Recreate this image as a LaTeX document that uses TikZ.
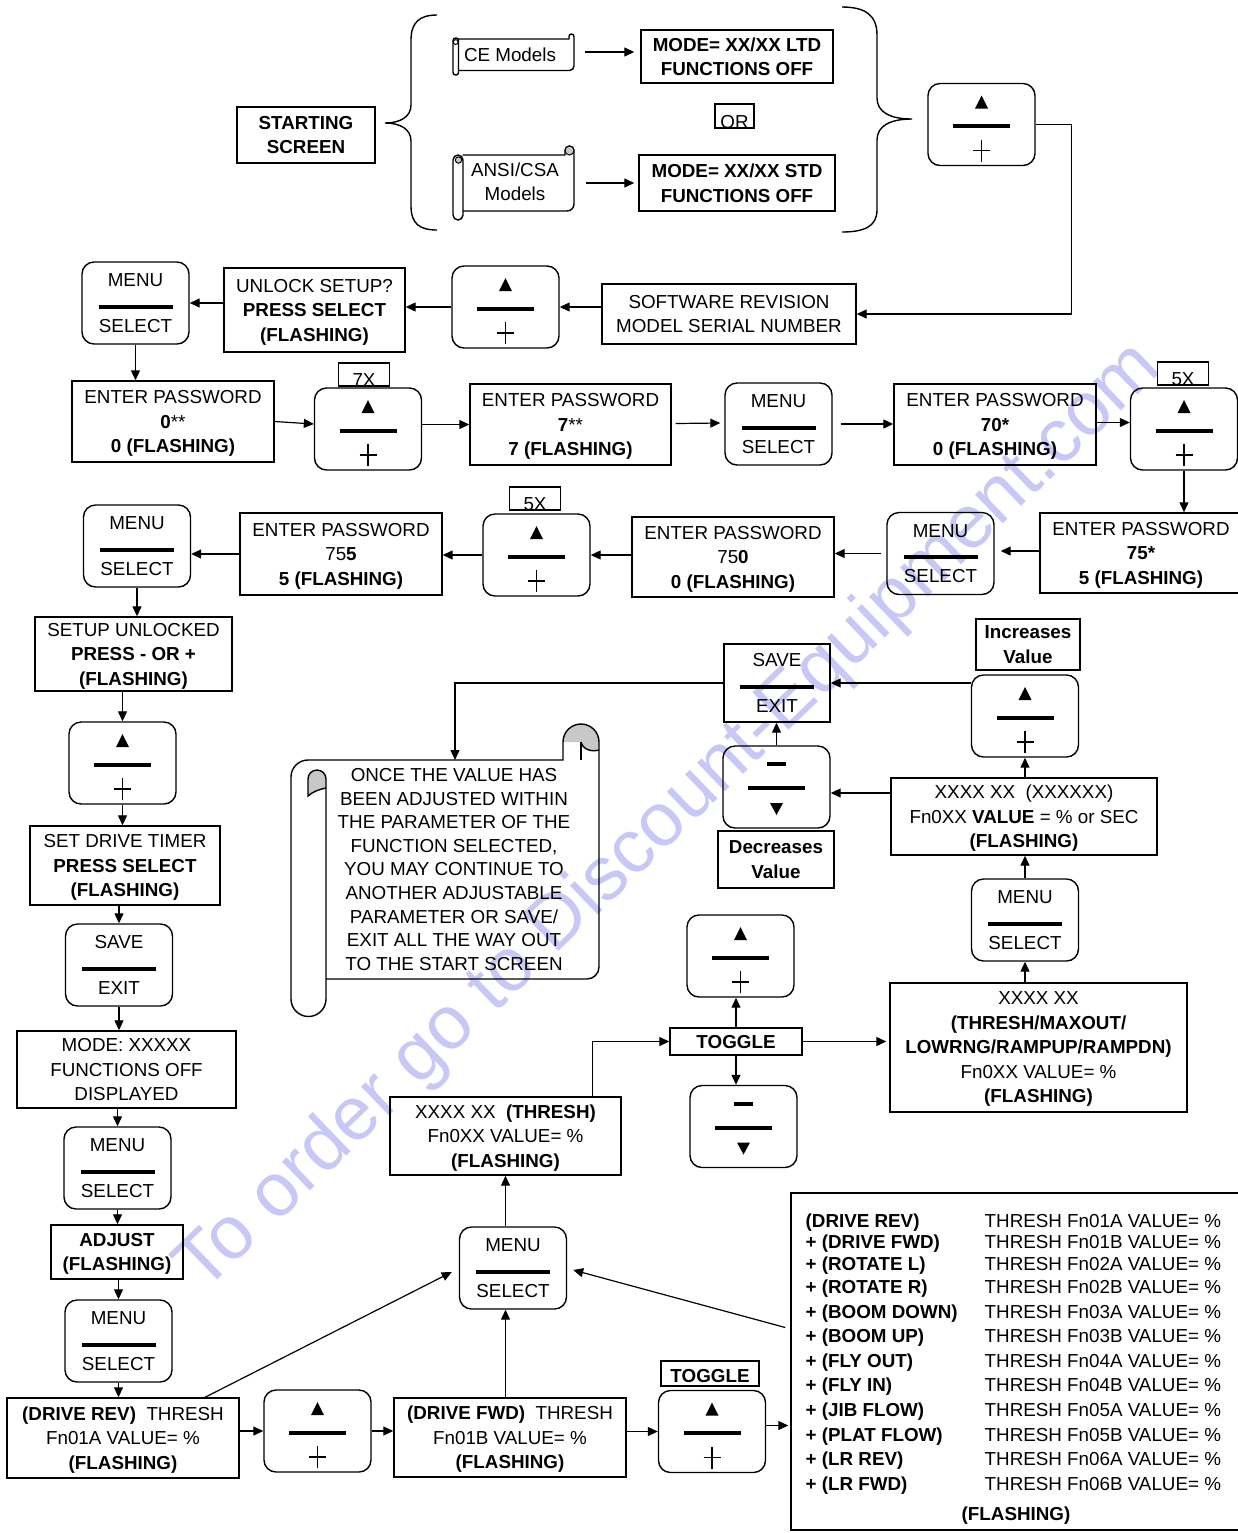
\documentclass[tikz,border=0pt]{standalone}
\usepackage{fontspec}
\setmainfont{Liberation Sans}
\usetikzlibrary{arrows.meta,calc}

\definecolor{wmblue}{RGB}{200,200,246}
\definecolor{curlgray}{RGB}{200,200,200}

\tikzset{
  box/.style={draw, align=center, inner sep=0pt, text depth=-1.5pt},
  bbox/.style={box, execute at begin node=\bfseries},
  wh/.style 2 args={minimum width=#1pt, minimum height=#2pt},
  key/.style={draw, rounded corners=6pt, minimum width=53.5pt, minimum height=41pt, inner sep=0pt},
  tag/.style={draw, inner xsep=0pt, inner ysep=0pt, minimum width=25.5pt, text height=11.5pt, text depth=0pt},
  bar/.style={line width=2pt},
  arr/.style={line width=0.6pt, ->},
  lbl/.style={anchor=base west, inner sep=0pt, execute at begin node=\bfseries},
  val/.style={anchor=base west, inner sep=0pt},
}

% key with up arrow / plus
\newcommand{\upkey}[2]{%
  \node[key] (#1) at (#2) {};
  \begin{scope}[shift={(#1.center)}]
    \fill (0,-29) -- (6.5,-16) -- (-6.5,-16) -- cycle;
    \draw[bar] (-28.5,1.5) -- (28.5,1.5);
    \draw[line width=0.6pt] (-8.5,26) -- (8.5,26) (0,15) -- (0,37);
  \end{scope}}

% key with minus / down arrow
\newcommand{\downkey}[2]{%
  \node[key] (#1) at (#2) {};
  \begin{scope}[shift={(#1.center)}]
    \draw[bar] (-9.5,-23) -- (9.5,-23);
    \draw[bar] (-28.5,1) -- (28.5,1);
    \fill (0,28) -- (6.5,16) -- (-6.5,16) -- cycle;
  \end{scope}}

% key with two words and a bar
\newcommand{\menukey}[5][key]{%
  \node[#1, align=center, text depth=-1.7pt] (#2) at (#3) {#4\\[10.5pt]#5};
  \draw[bar] ($(#2.center)+(-37,3.5)$) -- ($(#2.center)+(37,3.5)$);}

\begin{document}
\begin{tikzpicture}[
    x=0.5pt, y=-0.5pt,
    >={Triangle[length=5pt,width=4.5pt]},
    line width=0.7pt,
    font=\fontsize{9.4}{12.25}\selectfont
]

\path[fill=white] (0,0) rectangle (1238,1533);
\useasboundingbox (0,0) rectangle (1238,1533);

% watermark
\node[rotate=43.9, text=wmblue, font=\fontsize{37.8}{40}\selectfont] (wmark) at (670,818) {To order go to Discount-Equipment.com};

% ======================================
% starting screen
% ======================================
\node[bbox, wh={69}{28}] (start) at (306,135) {STARTING\\SCREEN};

\draw (437,15) .. controls (420,15) and (411,22) .. (411,40) -- (411,105)
   .. controls (411,117) and (400,123) .. (385,123)
   .. controls (400,123) and (411,129) .. (411,141) -- (411,206)
   .. controls (411,224) and (420,230) .. (437,230);
\draw (842,7) .. controls (865,7) and (877,15) .. (877,35) -- (877,98)
   .. controls (877,112) and (890,119) .. (912,119)
   .. controls (890,119) and (877,126) .. (877,140) -- (877,210)
   .. controls (877,226) and (865,232) .. (842,232);

% CE scroll
\draw (458,70.5) -- (569.5,70.5) arc[start angle=-90,end angle=0,radius=2.25pt]
   -- (574,36.5) arc[start angle=0,end angle=180,radius=1.25pt] -- (569,39) -- (458,39);
\draw[rounded corners=1.25pt] (453,38) rectangle (458.5,75);
\draw[line width=0.5pt] (455.7,42) circle[radius=1.2pt];
\node[wh={60}{20}] (ce) at (510,55) {CE Models};

% ANSI scroll
\draw (462.5,211) -- (567,211) arc[start angle=-90,end angle=0,radius=3.5pt]
   -- (574,150.5) arc[start angle=0,end angle=180,radius=2.25pt] -- (565,155) -- (462.5,155);
\filldraw[fill=curlgray, line width=0.5pt] (569.5,150.5) circle[radius=2.25pt];
\draw[rounded corners=2.5pt] (453,155) rectangle (463,220);
\filldraw[fill=curlgray, line width=0.5pt] (458.5,160) circle[radius=1.6pt];
\node[wh={60}{35}, align=center] (ansi) at (515,182) {ANSI/CSA\\Models};

\node[bbox, wh={96}{26.5}] (ltd) at (737,56.5) {MODE= XX/XX LTD\\FUNCTIONS OFF};
\node[tag, minimum width=19.5pt, text height=12pt] (or) at (734.5,116) {OR};
\node[bbox, wh={98}{28}] (std) at (737,183) {MODE= XX/XX STD\\FUNCTIONS OFF};

\upkey{k0}{981.5,124.5}
\node[box, wh={127}{30}] (software) at (729,314) {SOFTWARE REVISION\\MODEL SERIAL NUMBER};
\upkey{k1}{505.5,307}
\node[box, wh={90.5}{42}] (unlock) at (314.5,310) {UNLOCK SETUP?\\\textbf{PRESS SELECT}\\\textbf{(FLASHING)}};
\menukey{m1}{135.5,303}{MENU}{SELECT}

% ======================================
% password entry
% ======================================
\node[box, wh={101}{40.5}] (pw0) at (173,421.5) {ENTER PASSWORD\\\textbf{0}**\\\textbf{0 (FLASHING)}};
\node[tag] (x7) at (364,374.5) {7X};
\upkey{k2}{368,429}
\node[box, wh={100.5}{40.5}] (pw7) at (570.5,424.5) {ENTER PASSWORD\\\textbf{7}**\\\textbf{7 (FLASHING)}};
\menukey{m2}{778.5,424}{MENU}{SELECT}
\node[box, wh={101}{40.5}] (pw70) at (995,424.5) {ENTER PASSWORD\\\textbf{70*}\\\textbf{0 (FLASHING)}};
\node[tag] (x5a) at (1183,373.5) {5X};
\upkey{k3}{1184,429}

\node[box, wh={101}{40}] (pw75) at (1141,553) {ENTER PASSWORD\\\textbf{75*}\\\textbf{5 (FLASHING)}};
\menukey{m3}{940.5,553.5}{MENU}{SELECT}
\node[box, wh={101}{40}] (pw750) at (733,557) {ENTER PASSWORD\\75\textbf{0}\\\textbf{0 (FLASHING)}};
\node[tag] (x5b) at (535,498.5) {5X};
\upkey{k4}{536.5,555}
\node[box, wh={101}{41}] (pw755) at (341,554) {ENTER PASSWORD\\75\textbf{5}\\\textbf{5 (FLASHING)}};
\menukey{m4}{137,546}{MENU}{SELECT}

% ======================================
% left column
% ======================================
\node[box, wh={98.5}{37}, text depth=-3pt] (unlocked) at (133.5,654) {SETUP UNLOCKED\\\textbf{PRESS - OR +}\\\textbf{(FLASHING)}};
\upkey{k5}{122.5,763}
\node[box, wh={95}{39.5}] (timer) at (125,865.5) {SET DRIVE TIMER\\\textbf{PRESS SELECT}\\\textbf{(FLASHING)}};
\menukey{save1}{119,965}{SAVE}{EXIT}
\node[box, wh={109.5}{38.5}] (modebox) at (126.5,1069.5) {MODE: XXXXX\\FUNCTIONS OFF\\DISPLAYED};
\menukey{m5}{117.5,1168}{MENU}{SELECT}
\node[bbox, wh={66}{27}] (adjust) at (117,1252) {ADJUST\\(FLASHING)};
\menukey{m6}{118.5,1341}{MENU}{SELECT}

% ======================================
% bottom row
% ======================================
\node[box, wh={116}{40}] (rev) at (123,1438) {\textbf{(DRIVE REV)}~~THRESH\\Fn01A VALUE= \%\\\textbf{(FLASHING)}};
\upkey{k6}{317.5,1431}
\node[box, wh={116}{39.5}] (fwd) at (510,1437.5) {\textbf{(DRIVE FWD)}~~THRESH\\Fn01B VALUE= \%\\\textbf{(FLASHING)}};
\node[tag, minimum width=49pt, text height=10.5pt, text depth=2pt, execute at begin node=\bfseries] (tg1) at (710,1373.5) {TOGGLE};
\upkey{k7}{712,1431.5}
\menukey{m7}{513,1268}{MENU}{SELECT}
\node[box, wh={115.5}{39}, text depth=-3pt] (thresh) at (505.5,1136) {XXXX XX~~\textbf{(THRESH)}\\Fn0XX VALUE= \%\\\textbf{(FLASHING)}};

% list of thresholds
\node[box, wh={227}{168.5}] (list) at (1018,1361.5) {};
\foreach \lab/\code/\y [count=\i from 0] in {{(DRIVE REV)}/01A/1227, {+ (DRIVE FWD)}/01B/1248.5,
    {+ (ROTATE L)}/02A/1270, {+ (ROTATE R)}/02B/1293.5, {+ (BOOM DOWN)}/03A/1318.5, {+ (BOOM UP)}/03B/1342,
    {+ (FLY OUT)}/04A/1367, {+ (FLY IN)}/04B/1391.5, {+ (JIB FLOW)}/05A/1416, {+ (PLAT FLOW)}/05B/1441,
    {+ (LR REV)}/06A/1465, {+ (LR FWD)}/06B/1490}{
  \node[lbl] (lab\i) at (805,\y) {\lab};
  \node[val] (val\i) at (984,\y) {THRESH Fn\code\ VALUE= \%};
}
\node[lbl, anchor=center] (listflash) at (1016,1516) {(FLASHING)};

% ======================================
% toggle / adjust value
% ======================================
\node[bbox, wh={66}{13.5}] (tg2) at (736,1041.5) {TOGGLE};
\upkey{k8}{740.5,956}
\downkey{kd1}{743.5,1126.5}
\node[box, wh={148.5}{64.5}] (thmulti) at (1038.5,1047.5) {XXXX XX\\\textbf{(THRESH/MAXOUT/}\\\textbf{LOWRNG/RAMPUP/RAMPDN)}\\Fn0XX VALUE= \%\\\textbf{(FLASHING)}};
\menukey{m8}{1025,920}{MENU}{SELECT}
\node[box, wh={133}{38.5}, text depth=-2.5pt] (value) at (1024,816.5) {XXXX XX~~(XXXXXX)\\Fn0XX \textbf{VALUE} = \% or SEC\\\textbf{(FLASHING)}};
\upkey{k9}{1025,716}
\node[bbox, wh={52}{25.5}] (incr) at (1028,644.5) {Increases\\Value};
\menukey[box, wh={53}{39}]{saveexit}{777,683}{SAVE}{EXIT}
\downkey{kd2}{776.5,787}
\node[bbox, wh={58}{28.5}] (decr) at (776,859.5) {Decreases\\Value};

% ======================================
% note scroll
% ======================================
\fill[curlgray] (563,742) arc[start angle=180,end angle=0,radius=9pt] -- (599,750)
   .. controls (592,752) and (583,750) .. (581,742) -- cycle;
\filldraw[fill=curlgray] (308,779) arc[start angle=180,end angle=0,radius=4.5pt] -- (326,788)
   .. controls (320,789) and (312,792) .. (308,796) -- cycle;
\draw (326,979) -- (587,979) arc[start angle=-90,end angle=0,radius=6pt] -- (599,742)
   arc[start angle=0,end angle=180,radius=9pt] -- (563,760) -- (308,760)
   arc[start angle=90,end angle=180,radius=8.5pt] -- (291,999)
   arc[start angle=180,end angle=360,radius=8.75pt] -- (326,788);
\draw (581,742) -- (581,760);
\draw (599,750) .. controls (592,752) and (583,750) .. (581,742);
\node[align=center, font=\fontsize{9.4}{11.8}\selectfont] (note) at (454,869.5)
  {ONCE THE VALUE HAS\\BEEN ADJUSTED WITHIN\\THE PARAMETER OF THE\\FUNCTION SELECTED,\\YOU MAY CONTINUE TO\\ANOTHER ADJUSTABLE\\PARAMETER OR SAVE/\\EXIT ALL THE WAY OUT\\TO THE START SCREEN};
\coordinate (notetop) at (455,760);

% ======================================
% connectors
% ======================================
\draw[arr] ($(ce.east)+(14,-3)$) -- ($(ce.east -| ltd.west)+(-6,-3)$);
\draw[arr] ($(ansi.east)+(10,1)$) -- ($(ansi.east -| std.west)+(-4,1)$);
\draw[arr] (k0.east) -- ++(36,0) |- (software.east);
\draw[arr] (software.west |- k1.east) -- (k1.east);
\draw[arr] (k1.west) -- (k1.west -| unlock.east);
\draw[arr] (unlock.west |- m1.east) -- (m1.east);
\draw[arr] (m1.south) -- (m1.south |- pw0.north);

\draw[arr] (pw0.east) -- ($(k2.west)+(0,-5)$);
\draw[arr] (k2.east |- pw7.west) -- (pw7.west);
\draw[arr] ($(pw7.east)+(4,-1)$) -- ($(m2.west)+(-4,-1)$);
\draw[arr] ($(m2.east)+(8,0)$) -- (m2.east -| pw70.west);
\draw[arr] ($(pw70.east)+(0,-2)$) -- ($(pw70.east -| k3.west)+(0,-2)$);
\draw[arr] (k3.south) -- (k3.south |- pw75.north);

\draw[arr] ($(pw75.west)+(0,-2)$) -- ($(pw75.west -| m3.east)+(6,-2)$);
\draw[arr] ($(m3.west)+(-5,0)$) -- (m3.west -| pw750.east);
\draw[arr] (pw750.west |- k4.east) -- (k4.east);
\draw[arr] (k4.west) -- (k4.west -| pw755.east);
\draw[arr] (pw755.west) -- (pw755.west -| m4.east);

\draw[arr] (m4.south) -- (m4.south |- unlocked.north);
\draw[arr] (k5.north |- unlocked.south) -- (k5.north);
\draw[arr] (k5.south) -- (k5.south |- timer.north);
\draw[arr] (save1.north |- timer.south) -- (save1.north);
\draw[arr] (save1.south) -- (save1.south |- modebox.north);
\draw[arr] (m5.north |- modebox.south) -- (m5.north);
\draw[arr] (m5.south) -- (m5.south |- adjust.north);
\draw[arr] (m6.north |- adjust.south) -- (m6.north);
\draw[arr] (m6.south) -- (m6.south |- rev.north);

\draw[arr] (rev.east |- k6.west) -- (k6.west);
\draw[arr] (k6.east) -- (k6.east -| fwd.west);
\draw[arr] (fwd.east |- k7.west) -- (k7.west);
\draw[arr] ($(k7.east)+(0,-6)$) -- ($(k7.east -| list.west)+(-2,-6)$);
\draw[arr] ($(rev.north)+(82,0)$) -- ($(m7.west)+(-7,4)$);
\draw[arr] (fwd.north -| thresh.south) -- (thresh.south |- m7.south);
\draw[arr] ($(list.west)+(-5,-34)$) -- ($(m7.east)+(6,2)$);
\draw[arr] (thresh.south |- m7.north) -- (thresh.south);

\draw[arr] ($(thresh.north east)+(-29,0)$) |- (tg2.west);
\draw[arr] (tg2.north) -- (tg2.north |- k8.south);
\draw[arr] (tg2.south) -- (tg2.south |- kd1.north);
\draw[arr] (tg2.east) -- ($(tg2.east -| thmulti.west)+(-3,0)$);
\draw[arr] (m8.south |- thmulti.north) -- (m8.south);
\draw[arr] (m8.north) -- (m8.north |- value.south);
\draw[arr] (k9.south |- value.north) -- (k9.south);
\draw[arr] (k9.west |- saveexit.east) -- (saveexit.east);
\draw[arr] ($(value.west |- kd2.east)+(0,6)$) -- ($(kd2.east)+(0,6)$);
\draw[arr] (kd2.north) -- (kd2.north |- saveexit.south);
\draw[arr] (saveexit.west) -| (notetop);

\end{tikzpicture}
\end{document}
